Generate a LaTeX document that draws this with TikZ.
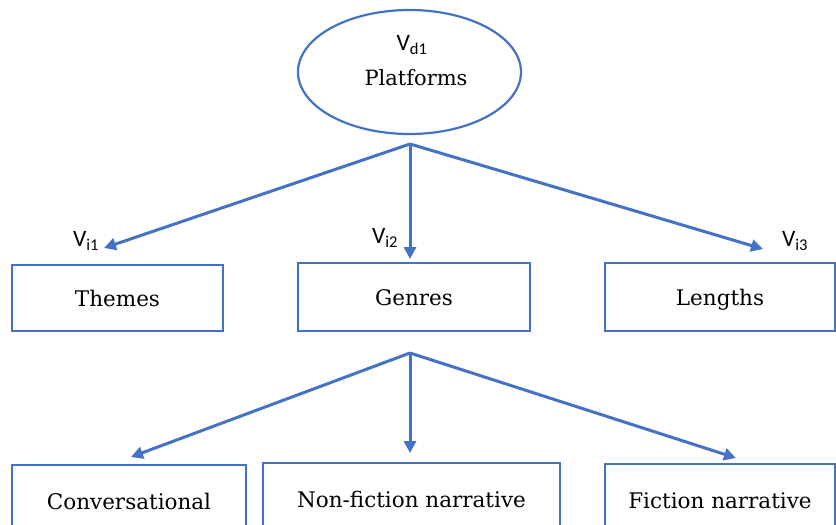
\documentclass[tikz,border=0pt]{standalone}
\usepackage{fontspec}
\setmainfont{DejaVu Serif}
\newfontfamily\lblfont{Carlito}
\usetikzlibrary{arrows.meta,shapes.geometric}
\definecolor{msblue}{HTML}{4472C4}
\begin{document}
\begin{tikzpicture}[x=1pt,y=-1pt,
  box/.style={draw=msblue,line width=2.2pt,rectangle,inner sep=0pt,text height=18pt,text depth=1pt,font=\fontsize{21.5}{25}\selectfont},
  arr/.style={draw=msblue,line width=3pt,-{Triangle[length=12pt,width=12pt]}},
  lbl/.style={font=\lblfont\fontsize{23.5}{28}\selectfont,inner sep=0pt}]
\useasboundingbox (0,0) rectangle (836,525);
\clip (0,0) rectangle (836,525);
\node[draw=msblue,line width=2.2pt,ellipse,minimum width=223pt,minimum height=124pt,inner sep=0pt] (plat) at (409.5,72) {};
\node[lbl] (vd1) at (412,45) {V\textsubscript{d1}};
\node[font=\fontsize{21}{24}\selectfont,inner sep=0pt] (platt) at (416,78) {Platforms};
\coordinate (top) at (410,144);
\node[box,minimum width=211pt,minimum height=66pt] (themes) at (117.5,298) {Themes};
\node[box,minimum width=232pt,minimum height=68pt] (genres) at (414,297) {Genres};
\node[box,minimum width=230pt,minimum height=68pt] (lengths) at (720,297) {Lengths};
\coordinate (e1) at (104,248);
\coordinate (e2) at (410,259);
\coordinate (e3) at (763,249);
\draw[arr] (top) -- (e1);
\draw[arr] (top) -- (e2);
\draw[arr] (top) -- (e3);
\node[lbl] (vi1) at (86,241) {V\textsubscript{i1}};
\node[lbl] (vi2) at (385,238) {V\textsubscript{i2}};
\node[lbl] (vi3) at (795,241) {V\textsubscript{i3}};
\coordinate (mid) at (410,353);
\node[box,minimum width=234pt,minimum height=72pt] (conv) at (129,501) {Conversational};
\node[box,minimum width=297pt,minimum height=72pt] (nonfic) at (411.5,499) {Non-fiction narrative};
\node[box,minimum width=230pt,minimum height=72pt] (fic) at (720,500) {Fiction narrative};
\coordinate (f1) at (131,457);
\coordinate (f2) at (410,453);
\coordinate (f3) at (736,458);
\draw[arr] (mid) -- (f1);
\draw[arr] (mid) -- (f2);
\draw[arr] (mid) -- (f3);
\end{tikzpicture}
\end{document}
